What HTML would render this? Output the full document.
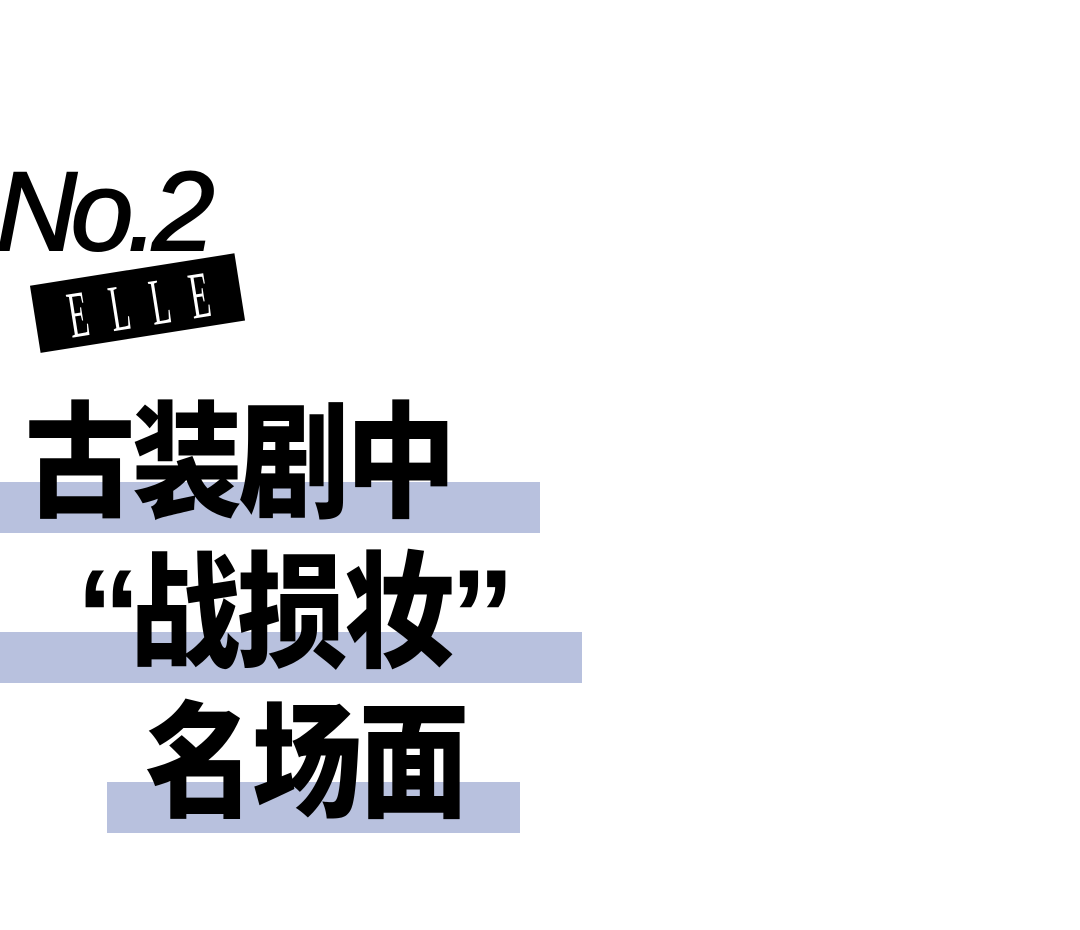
<!DOCTYPE html>
<html><head><meta charset="utf-8"><style>
body{margin:0;width:1080px;height:930px;background:#fff;position:relative;overflow:hidden}
.bar{position:absolute;background:#b8c1de}
.t{position:absolute;font-family:"Liberation Sans","Noto Sans CJK SC",sans-serif;font-weight:900;font-size:110px;line-height:1;color:#000;white-space:nowrap;transform:scaleY(1.14);transform-origin:0 0}
.q{position:absolute;font-family:"Liberation Sans",sans-serif;font-weight:bold;font-size:130px;line-height:1;color:#000}
</style></head><body>
<div class="bar" style="left:0;top:482px;width:540px;height:51px"></div>
<div class="bar" style="left:0;top:632px;width:582px;height:51px"></div>
<div class="bar" style="left:107px;top:782px;width:413px;height:51px"></div>
<div style="position:absolute;left:-4px;top:150px;font-family:'Liberation Sans',sans-serif;font-style:italic;font-size:112px;letter-spacing:-6px;line-height:1.1;color:#000;-webkit-text-stroke:2px #000">No.2</div>
<svg style="position:absolute;left:0;top:0" width="300" height="380">
<g transform="rotate(-9 138 303)">
<rect x="34" y="269" width="207" height="68" fill="#000"/>
<g font-family="Liberation Serif, serif" font-size="66" fill="#fff">
<text x="67" y="327" textLength="20" lengthAdjust="spacingAndGlyphs">E</text>
<text x="109" y="327" textLength="20" lengthAdjust="spacingAndGlyphs">L</text>
<text x="150" y="327" textLength="20" lengthAdjust="spacingAndGlyphs">L</text>
<text x="190" y="327" textLength="20" lengthAdjust="spacingAndGlyphs">E</text>
</g></g></svg>
<div class="t" style="left:25px;top:402px;letter-spacing:-3px">古装剧中</div>
<div class="q" style="left:76px;top:550px">“</div>
<div class="t" style="left:130px;top:552px;letter-spacing:-3px">战损妆</div>
<div class="q" style="left:450px;top:550px">”</div>
<div class="t" style="left:145px;top:702px;letter-spacing:-3px">名场面</div>
</body></html>
